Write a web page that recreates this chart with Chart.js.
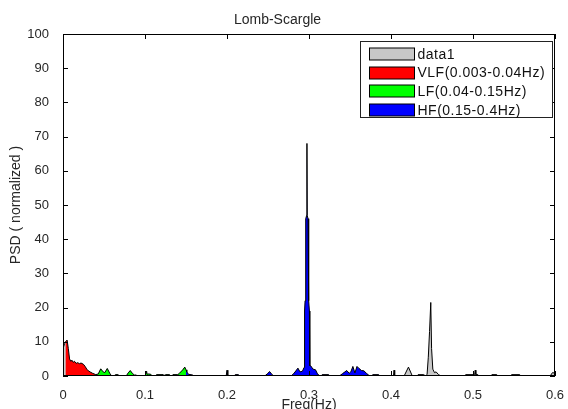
<!DOCTYPE html>
<html>
<head>
<meta charset="utf-8">
<script src="https://cdn.jsdelivr.net/npm/chart.js@4.4.0/dist/chart.umd.min.js"></script>
<style>
  html, body { margin: 0; padding: 0; background: #fff; }
  canvas { display: block; }
</style>
</head>
<body>
<canvas id="grafico-psd" width="568" height="409"></canvas>
<script>
// spectrum (Hz / normalized PSD)
const freq = [
  0, 0.002, 0.003, 0.005, 0.0065, 0.008, 0.0095, 0.011, 0.0125, 0.014,
  0.016, 0.018, 0.02, 0.022, 0.025, 0.027, 0.029, 0.031, 0.033, 0.036,
  0.04, 0.043, 0.046, 0.049, 0.051, 0.054, 0.057, 0.059, 0.062, 0.064,
  0.067, 0.069, 0.077, 0.0795, 0.082, 0.0845, 0.087, 0.089, 0.091, 0.1,
  0.102, 0.1025, 0.104, 0.107, 0.109, 0.113, 0.114, 0.122, 0.123, 0.124,
  0.125, 0.13, 0.131, 0.133, 0.134, 0.14, 0.142, 0.146, 0.1485, 0.15,
  0.151, 0.153, 0.158, 0.16, 0.199, 0.2, 0.201, 0.209, 0.21, 0.214,
  0.215, 0.246, 0.249, 0.252, 0.255, 0.257, 0.278, 0.281, 0.284, 0.2865,
  0.289, 0.292, 0.294, 0.2946, 0.2952, 0.2958, 0.2962, 0.2972, 0.2975, 0.2978,
  0.2988, 0.2993, 0.2999, 0.3005, 0.301,
  0.302, 0.305, 0.308, 0.31, 0.312, 0.315, 0.316, 0.324, 0.325, 0.337,
  0.341, 0.346, 0.349, 0.351, 0.3535, 0.356, 0.3585, 0.361, 0.364, 0.367,
  0.37, 0.373, 0.376, 0.378, 0.385, 0.386, 0.4, 0.403, 0.4037, 0.4045,
  0.416, 0.4213, 0.426, 0.432, 0.433, 0.44, 0.442, 0.444, 0.4455, 0.447,
  0.4485, 0.4495, 0.451, 0.453, 0.455, 0.458, 0.461, 0.49, 0.491, 0.502,
  0.5027, 0.5035, 0.506, 0.507, 0.522, 0.523, 0.529, 0.53, 0.546, 0.547,
  0.557, 0.558, 0.594, 0.597, 0.6
];
const psd = [
  8, 9.5, 10, 10.5, 8, 5, 4.3, 4.6, 4.0, 4.3,
  3.7, 3.9, 3.6, 3.8, 3.4, 2.8, 2.0, 1.5, 1.2, 0.8,
  0.4, 0.6, 2.1, 1.2, 1.0, 2.2, 0.8, 0.1, 0, 0.4,
  0.4, 0, 0, 0.9, 1.6, 0.8, 0.3, 0.3, 0, 0,
  1.4, 0.5, 0.6, 0.5, 0, 0, 0.4, 0.4, 0, 0,
  0.4, 0.4, 0, 0, 0.4, 0.4, 0.8, 1.8, 2.6, 1.8,
  1.2, 0.5, 0.3, 0, 0, 1.7, 0, 0, 0.4, 0.4,
  0, 0, 0.6, 1.3, 0.4, 0, 0, 0.6, 1.5, 2.3,
  1.2, 1.4, 2.5, 19, 22, 24, 46, 47, 68, 47,
  46, 24, 22, 19, 3,
  3, 2, 1.8, 0.8, 0.2, 0, 0.4, 0.4, 0, 0,
  0.7, 1.6, 0.8, 1.2, 2.8, 0.9, 2.8, 2.2, 1.6, 1.5,
  0.8, 0.2, 0, 0.4, 0.4, 0, 0, 0, 1.7, 0,
  0, 2.6, 0, 0, 0.4, 0.4, 0, 0.5, 5.5, 13,
  21.5, 8, 2, 1.0, 1.2, 0.4, 0, 0, 0.4, 0.4,
  1.7, 0.4, 0.4, 0, 0, 0.4, 0.4, 0, 0, 0.4,
  0.4, 0, 0, 1.0, 0.8
];

const bandLabels = ['VLF(0.003-0.04Hz)', 'LF(0.04-0.15Hz)', 'HF(0.15-0.4Hz)'];
const bandLow = [0.003, 0.04, 0.15];
const bandHigh = [0.04, 0.15, 0.4];
const bandColors = ['#ff0000', '#00ff00', '#0000ff'];

const xTicks = [0, 0.1, 0.2, 0.3, 0.4, 0.5, 0.6];
const yTicks = [0, 10, 20, 30, 40, 50, 60, 70, 80, 90, 100];

const fonte = "'Liberation Sans', Arial, sans-serif";
Chart.defaults.font.family = fonte;
Chart.defaults.color = '#262626';

function pontos(lo, hi) {
    const out = [];
    freq.forEach((f, i) => {
        if (f >= lo - 1e-9 && f <= hi + 1e-9) out.push({x: f, y: psd[i]});
    });
    return out;
}

const datasets = [{
    label: 'data1',
    data: freq.map((f, i) => ({x: f, y: psd[i]})),
    borderColor: '#000000',
    borderWidth: 1,
    backgroundColor: '#c8c8c8',
    fill: 'origin',
    pointRadius: 0,
    tension: 0,
    order: 1
}];
bandLabels.forEach((nome, k) => {
    datasets.push({
        label: nome,
        data: pontos(bandLow[k], bandHigh[k]),
        borderColor: 'rgba(0,0,0,0)',
        borderWidth: 0,
        backgroundColor: bandColors[k],
        fill: 'origin',
        pointRadius: 0,
        tension: 0,
        order: 0
    });
});

// box, inward ticks and legend drawn over the plot
const moldura = {
    id: 'moldura',
    afterDraw(chart) {
        const {ctx, chartArea: a, scales: {x, y}} = chart;
        ctx.save();
        ctx.strokeStyle = '#000';
        ctx.lineWidth = 1;
        ctx.strokeRect(Math.round(a.left) + 0.5, Math.round(a.top) + 0.5,
            Math.round(a.right - a.left) - 1, Math.round(a.bottom - a.top) - 1);
        ctx.beginPath();
        xTicks.forEach(v => {
            const px = Math.round(x.getPixelForValue(v)) + 0.5;
            ctx.moveTo(px, a.bottom); ctx.lineTo(px, a.bottom - 5);
            ctx.moveTo(px, a.top); ctx.lineTo(px, a.top + 5);
        });
        yTicks.forEach(v => {
            const py = Math.round(y.getPixelForValue(v)) + 0.5;
            ctx.moveTo(a.left, py); ctx.lineTo(a.left + 5, py);
            ctx.moveTo(a.right, py); ctx.lineTo(a.right - 5, py);
        });
        ctx.stroke();

        // legend
        const bx = Math.round(a.right) - 194.5, by = Math.round(a.top) + 7.5;
        ctx.fillStyle = '#fff';
        ctx.fillRect(bx, by, 192, 76);
        ctx.strokeStyle = '#222';
        ctx.strokeRect(bx, by, 192, 76);
        ctx.font = '14px ' + fonte;
        ctx.textBaseline = 'middle';
        ctx.textAlign = 'left';
        if ('letterSpacing' in ctx) ctx.letterSpacing = '0.5px';
        chart.data.datasets.forEach((ds, i) => {
            const cy = by + 12.5 + i * 18.6;
            ctx.fillStyle = ds.backgroundColor;
            ctx.fillRect(bx + 9, Math.round(cy - 6), 45, 12);
            ctx.strokeStyle = '#000';
            ctx.strokeRect(bx + 9, Math.round(cy - 6), 45, 12);
            ctx.fillStyle = '#111';
            ctx.fillText(ds.label, bx + 57, cy + 1);
        });
        ctx.restore();
    }
};

new Chart(document.getElementById('grafico-psd').getContext('2d'), {
    type: 'line',
    data: {datasets: datasets},
    plugins: [moldura],
    options: {
        responsive: false,
        animation: false,
        devicePixelRatio: 1,
        layout: {padding: {top: 0, right: 13, bottom: 0, left: 0}},
        scales: {
            x: {
                type: 'linear',
                min: 0,
                max: 0.6,
                afterBuildTicks: s => { s.ticks = xTicks.map(v => ({value: v})); },
                afterFit: s => { s.height = 33; s.paddingLeft = 0; s.paddingRight = 0; },
                grid: {display: false},
                border: {display: false},
                ticks: {
                    padding: 4,
                    maxRotation: 0,
                    font: {size: 13},
                    callback: v => String(Number(v.toFixed(1)))
                },
                title: {
                    display: true,
                    text: 'Freq(Hz)',
                    font: {size: 14, lineHeight: 1},
                    padding: {top: 0, bottom: -3.5}
                }
            },
            y: {
                min: 0,
                max: 100,
                afterBuildTicks: s => { s.ticks = yTicks.map(v => ({value: v})); },
                afterFit: s => { s.width = 63; s.paddingTop = 0; s.paddingBottom = 0; },
                grid: {display: false},
                border: {display: false},
                ticks: {padding: 6, font: {size: 13}},
                title: {
                    display: true,
                    text: 'PSD ( normalized )',
                    font: {size: 14, lineHeight: 1},
                    padding: {top: 9.5, bottom: 0}
                }
            }
        },
        plugins: {
            legend: {display: false},
            tooltip: {enabled: false},
            filler: {drawTime: 'beforeDatasetsDraw'},
            title: {
                display: true,
                text: 'Lomb-Scargle',
                color: '#262626',
                font: {size: 14, weight: 'normal', lineHeight: 1.2},
                padding: {top: 12, bottom: 5.2}
            }
        }
    }
});
</script>
</body>
</html>
